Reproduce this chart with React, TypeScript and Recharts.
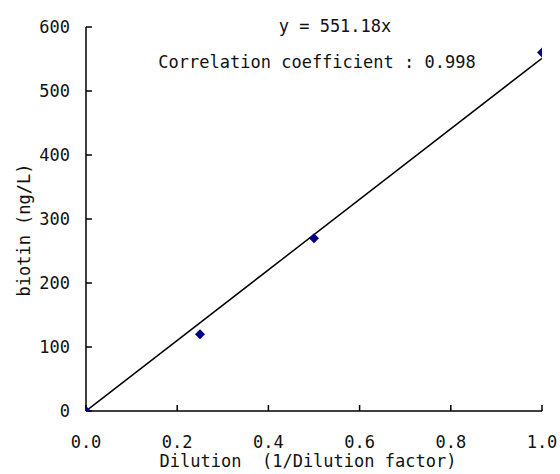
import { ScatterChart, Scatter, XAxis, YAxis } from 'recharts';

// measured points
const dilution = [0, 0.25, 0.5, 1.0];
const biotin = [0, 120, 270, 560];

// regression line y = 551.18x, drawn between its end points
const fitX = [0, 1];
const fitY = [0, 551.18];

const xTicks = [0, 0.2, 0.4, 0.6, 0.8, 1.0];
const yTicks = [0, 100, 200, 300, 400, 500, 600];

const equation = 'y = 551.18x';
const correlation = 'Correlation coefficient : 0.998';
const xTitle = 'Dilution\u00a0\u00a0(1/Dilution factor)';
const yTitle = 'biotin (ng/L)';

const font = '"DejaVu Sans Mono", "Liberation Mono", monospace';

const points = dilution.map((x, i) => ({ x, y: biotin[i] }));
const fit = fitX.map((x, i) => ({ x, y: fitY[i] }));

const Diamond = (props: any) => {
  const { cx, cy } = props;
  const r = 5;
  return (
    <polygon
      points={`${cx},${cy - r} ${cx + r},${cy} ${cx},${cy + r} ${cx - r},${cy}`}
      fill="#00008b"
    />
  );
};

export default function App() {
  const tickStyle = { fontFamily: font, fontSize: 17, fill: '#111' };
  return (
    // absolute so the body's bottom margin doesn't add a scrollbar
    <div style={{ position: 'absolute', left: 8, top: 8, width: 552, height: 466 }}>
      <ScatterChart
        width={552}
        height={466}
        margin={{ top: 19, right: 18, bottom: 23, left: 18 }}
        style={{ overflow: 'visible' }}
      >
        <XAxis
          type="number"
          dataKey="x"
          domain={[0, 1]}
          ticks={xTicks}
          tickFormatter={(v: number) => v.toFixed(1)}
          height={40}
          tickSize={-6}
          tickMargin={31}
          axisLine={{ stroke: '#000', strokeWidth: 1.5 }}
          tickLine={{ stroke: '#000', strokeWidth: 1.5 }}
          tick={tickStyle}
          allowDataOverflow
        />
        <YAxis
          type="number"
          dataKey="y"
          domain={[0, 600]}
          ticks={yTicks}
          width={60}
          tickSize={-6}
          tickMargin={22}
          axisLine={{ stroke: '#000', strokeWidth: 1.5 }}
          tickLine={{ stroke: '#000', strokeWidth: 1.5 }}
          tick={tickStyle}
          allowDataOverflow
        />
        <Scatter
          data={fit}
          line={{ stroke: '#000', strokeWidth: 1.5 }}
          shape={() => <g />}
          isAnimationActive={false}
        />
        <Scatter data={points} shape={Diamond} isAnimationActive={false} />
      </ScatterChart>
      <svg
        width={552}
        height={466}
        style={{ position: 'absolute', left: 0, top: 0, pointerEvents: 'none' }}
      >
        <g fontFamily={font} fontSize={17} fill="#111">
          <text x={327} y={24} textAnchor="middle">{equation}</text>
          <text x={309} y={60} textAnchor="middle">{correlation}</text>
          <text x={300} y={459} textAnchor="middle">{xTitle}</text>
          <text
            x={0}
            y={0}
            textAnchor="middle"
            transform="translate(22,222) rotate(-90)"
          >
            {yTitle}
          </text>
        </g>
      </svg>
    </div>
  );
}
